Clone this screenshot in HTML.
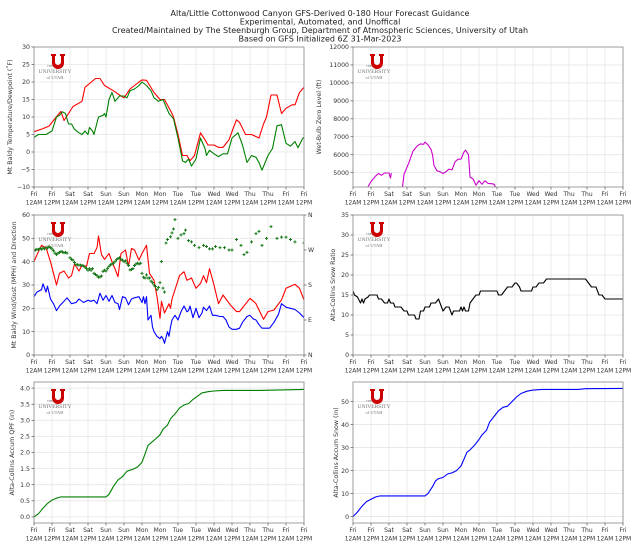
<!DOCTYPE html>
<html><head><meta charset="utf-8">
<style>
html,body{margin:0;padding:0;background:#fff;}
svg{display:block;font-family:"DejaVu Sans","Liberation Sans",sans-serif;}
</style></head>
<body>
<svg id="fig" width="639" height="548" viewBox="0 0 639 548">
<g font-size="8" fill="#222" text-anchor="middle">
<text x="320" y="16">Alta/Little Cottonwood Canyon GFS-Derived 0-180 Hour Forecast Guidance</text>
<text x="320" y="24.5">Experimental, Automated, and Unoffical</text>
<text x="320" y="33">Created/Maintained by The Steenburgh Group, Department of Atmospheric Sciences, University of Utah</text>
<text x="320" y="41.5">Based on GFS Initialized 6Z 31-Mar-2023</text>
</g>
</svg>
<script>
// ---- data (hour offsets from Fri 12AM) ----
const dayLabels=["Fri","Fri","Sat","Sat","Sun","Sun","Mon","Mon","Tue","Tue","Wed","Wed","Thu","Thu","Fri","Fri"];
const timeLabels=["12AM","12PM","12AM","12PM","12AM","12PM","12AM","12PM","12AM","12PM","12AM","12PM","12AM","12PM","12AM","12PM"];

const tempHours=[0,6,10,16,18,20,26,32,34,41,44,47,53,58,60,64,70,72,75,80,84,87,92,93,96,99,102,104,107,111,114,116,120,123,126,130,133,135,137,141,145,150,153,155,158,162,165,168,172,174,177,180];
const tempValues=[5.8,6.7,7.4,10.6,11.6,9,13,14.5,18.5,21,21,19,17.5,16,15.5,18,20,20.6,20.5,17,15,15,11,10,5,-1,-1,-2.5,-1,5.5,3.5,2,2,1.3,1.3,3.5,7,9.2,8.5,5,5,4,8,10,16.3,16.3,11,12.5,13.5,13.5,17,18.5];
const dewHours=[0,3,8,12,15,17,19,21,23,25,27,30,32,34,36,37,39,40,43,46,47,48,50,52,54,57,60,62,64,67,70,72,75,78,80,83,86,90,93,96,99,101,103,105,108,111,114,115,117,120,123,126,129,132,136,139,142,145,148,150,152,156,159,162,165,168,171,174,176,179,180];
const dewValues=[4.2,5,5,6,10,10.5,11.5,11,8,8,6.5,5.5,5,6,5,7,6,5,10,10.5,11,10,15,17,14.5,16,16,15.5,17.5,18,19,20,19,17.5,15.5,14.5,15,11,9.5,4,-2.5,-3,-2,-4,-2,4,1,-1,0.5,-0.5,-1.3,-0.5,-0.5,4,5.5,2,-3,-1,-1.5,-3,-5.2,-1,1,7.5,7.8,2.5,1.7,3,1.2,3.8,4.2];

const wbzHours=[10,12,15,17,19,21,24,25,25.5,25.6,33,34,37,40,43,45,47,48,50,52,53,54,56,58,60,62,64,66,68,70,72,74,75,77,78,80,82,84,86,88,90,93,94,95];
const wbzValues=[4220,4500,4800,4950,4850,4980,4980,4700,4980,null,4200,4900,5500,6200,6500,6600,6580,6700,6550,6300,6000,5400,5100,5050,4950,5050,5200,5150,5600,5750,5750,6150,6250,6000,4750,4650,4300,4550,4350,4550,4400,4380,4350,4200];

const gustHours=[0,2,5,8,11,13,15,17,20,23,25,27,30,32,35,37,40,42,43,45,47,50,52,54,56,58,61,63,65,67,70,72,75,77,80,82,84,85,87,90,91,92,95,97,100,102,105,108,111,113,115,117,120,123,126,131,135,137,144,148,153,156,160,165,168,174,177,180];
const gustValues=[40,43,47,46,40,35,30,35,36,33,34,39,36,38.5,38,43.5,43.5,46,51,43,41,43.5,40,37,33.5,43.5,45,38,45.7,45,40.7,43.5,47,35,32,25,15.7,23,18,22,20,24,30,34,35.7,32,33,28.6,30.7,34,31,37,30,22,25.7,21.4,18.6,18.6,24.3,22,15.3,18.6,19.3,23.6,28.6,30.3,28.6,23.6];
const windHours=[0,2,5,6,8,9,11,13,15,17,20,22,25,28,30,33,36,38,40,42,44,46,48,50,52,54,56,57,59,61,63,65,67,70,72,73,74,75,76,78,79,80,82,84,85,86,87,89,90,91,92,94,96,98,100,102,103,104,106,108,110,112,113,115,117,119,121,124,126,128,130,132,135,137,139,142,144,146,148,150,152,155,157,160,163,165,168,171,174,177,180];
const windValues=[25,27,28,30.5,27,29.5,24,22,19,21,23,24.5,22,22.5,24,22.5,23.5,23,23.5,22,26.5,23.5,25.5,23,25.5,22.5,22,19.5,25,24.5,21.5,24,24.5,25,22.5,25,22,25,15,17,12,10,8,7,8,7,5,10,8,12,15,17,15,18.5,21,18.5,19,21,16,20,16,18,20.5,19,21,17,17,16.5,16.5,15,12,11,11,11.5,14,16.5,17,15.5,15,13,11.5,11.5,11.5,14,17.5,22,20.5,20,19.5,18,16];
const dirHours=[0,1,2,3,4,5,6,7,8,9,10,11,12,13,14,15,16,17,18,19,20,21,22,24,25,26,27,28,29,30,31,32,33,34,35,36,37,38,39,40,41,42,43,44,45,46,47,48,49,50,51,52,53,54,55,56,57,58,59,60,61,62,63,64,65,66,67,68,69,70,71,72,73,74,75,76,77,78,79,80,81,82,83,84,85,86,87,88,89,91,92,93,94,96,98,100,101,103,105,107,110,113,115,117,119,121,124,127,130,132,135,138,140,142,145,148,150,152,155,158,162,165,168,171,174,180];
const dirValues=[268,270,272,271,274,272,275,273,276,275,278,276,273,268,262,258,262,264,266,265,263,264,262,250,246,244,238,232,232,231,231,230,229,226,222,218,222,218,222,210,207,204,200,201,203,215,218,216,222,228,232,234,236,240,245,248,250,246,244,240,242,236,230,219,220,222,230,234,236,234,236,210,200,198,206,198,198,190,186,180,176,168,174,186,240,172,162,288,297,304,314,324,348,300,309,312,321,294,291,282,276,282,279,273,273,279,276,276,270,270,297,282,258,264,291,312,318,282,300,330,300,303,303,297,291,288];

const ratioHours=[0,1,3,5,6,7,8,10,11,16,17,19,21,23,24,25,27,28,32,34,36,37,41,42,44,45,47,48,51,52,55,57,58,60,62,64,65,66,67,71,72,73,74,75,77,78,80,82,84,85,96,97,99,101,103,106,108,109,111,112,119,120,122,124,127,129,155,157,159,162,164,166,168,180];
const ratioValues=[16,15,14.5,13,14,13,14,14.5,15,15,14,14,13,13,14,13,13,12,12,11,11,10,10,9,9,11,11,12,12,13,13,14,13,11,12,12,11,10,11,11,12,11,12,11,11,13,14,15,15,16,16,15,15,16,17,17,18,18,17,16,16,17,17,18,18,19,19,18,17,17,15,15,14,14];

const qpfHours=[0,3,6,9,12,15,18,24,48,50,53,56,59,62,66,69,72,74,76,78,81,84,86,89,91,94,97,100,103,106,109,112,116,120,126,150,180];
const qpfValues=[0,0.1,0.27,0.42,0.52,0.58,0.62,0.62,0.62,0.7,0.95,1.15,1.25,1.42,1.48,1.55,1.7,1.95,2.22,2.3,2.42,2.55,2.72,2.85,3.05,3.2,3.38,3.48,3.52,3.65,3.75,3.85,3.89,3.91,3.93,3.93,3.96];
const snowHours=[0,3,6,9,12,15,18,48,50,53,55,57,60,63,66,69,72,74,76,78,81,84,86,89,91,94,97,100,103,106,109,112,116,120,126,150,155,180];
const snowValues=[0,2,4.5,6.5,7.5,8.5,9,9,10,13,15.5,16.5,17,18.5,19,20,22,25,28,29,31,33.5,35.5,37.5,41,43.5,46,47.5,48,50,52,53.5,54.5,55,55.3,55.3,55.6,55.7];

const NS='http://www.w3.org/2000/svg';
const fig=document.getElementById('fig');
function mk(tag,attrs,parent){const e=document.createElementNS(NS,tag);for(const k in attrs)e.setAttribute(k,attrs[k]);(parent||fig).appendChild(e);return e;}

let clipId=0;
function panel(p){
  const g=mk('g',{});
  
  
  const L=p.x0,R=p.x0+270,T=p.y0,B=p.y0+p.h;
  const xs=h=>L+h*270/180;
  const ys=v=>B-(v-p.ymin)/(p.ymax-p.ymin)*p.h;
  for(let i=0;i<16;i++){const x=xs(i*12);mk('line',{x1:x,x2:x,y1:T,y2:B,stroke:'#e6e6e6','stroke-width':0.8},g);}
  p.yticks.forEach(v=>{const y=ys(v);mk('line',{x1:L,x2:R,y1:y,y2:y,stroke:'#e6e6e6','stroke-width':0.8},g);});
  const lg=mk('g',{},g);
  
  
  mk('path',{d:`M${L+17} ${T+7}h5v2h-1v6a3 3 0 0 0 6 0v-6h-1v-2h5v2h-1v7a6 6 0 0 1 -12 0v-7h-1z`,fill:'#cc0000'},lg);
  const t1=mk('text',{x:L+21,y:T+26,'font-size':5.5,fill:'#777','text-anchor':'middle','font-family':'Liberation Serif,serif'},lg);t1.textContent='UNIVERSITY';
  const t0=mk('text',{x:L+13,y:T+20,'font-size':3,fill:'#777','font-family':'Liberation Serif,serif'},lg);t0.textContent='THE';
  const t2=mk('text',{x:L+21,y:T+32,'font-size':4.5,fill:'#777','text-anchor':'middle','font-family':'Liberation Serif,serif'},lg);t2.textContent='of UTAH';
  const cid='c'+(clipId++);
  const cp=mk('clipPath',{id:cid},g);mk('rect',{x:L,y:T,width:270,height:p.h},cp);
  const sg=mk('g',{'clip-path':`url(#${cid})`},g);
  p.series.forEach(s=>{
    if(s.markers){
      const mg=mk('g',{},sg);
      
      
      s.hours.forEach((h,i)=>{const x=xs(h),y=ys(s.values[i]*s.scale);
        mk('path',{d:`M${x-1.5} ${y}h3M${x} ${y-1.5}v3`,stroke:s.color,'stroke-width':1},mg);});
      return;
    }
    let d='',pen=false;
    s.hours.forEach((h,i)=>{const v=s.values[i];if(v===null){pen=false;return;}
      d+=(pen?'L':'M')+xs(h).toFixed(1)+' '+ys(v).toFixed(1);pen=true;});
    const pa=mk('path',{d:d,fill:'none',stroke:s.color,'stroke-width':1.1,'stroke-linejoin':'round'},sg);
    
    
  });
  mk('rect',{x:L,y:T,width:270,height:p.h,fill:'none',stroke:'#888','stroke-width':0.8},g);
  p.yticks.forEach((v,i)=>{const y=ys(v);mk('line',{x1:L-2.5,x2:L,y1:y,y2:y,stroke:'#555','stroke-width':0.7},g);
    const t=mk('text',{x:L-4,y:y+2.2,'font-size':6.2,fill:'#333','text-anchor':'end'},g);t.textContent=p.ylabels[i];});
  if(p.right){p.right.forEach((lab,i)=>{const y=ys(i*15);mk('line',{x1:R,x2:R+2.5,y1:y,y2:y,stroke:'#555','stroke-width':0.7},g);
    const t=mk('text',{x:R+4,y:y+2.2,'font-size':6.2,fill:'#333'},g);t.textContent=lab;});}
  for(let i=0;i<16;i++){const x=xs(i*12);mk('line',{x1:x,x2:x,y1:B,y2:B+2.5,stroke:'#555','stroke-width':0.7},g);
    const a=mk('text',{x:x,y:B+9,'font-size':6,fill:'#333','text-anchor':'middle'},g);a.textContent=dayLabels[i];
    const b=mk('text',{x:x,y:B+17.5,'font-size':6,fill:'#333','text-anchor':'middle',textLength:16.5,lengthAdjust:'spacingAndGlyphs'},g);b.textContent=timeLabels[i];}
  const yl=mk('text',{x:0,y:0,'font-size':6.3,fill:'#333','text-anchor':'middle',transform:`translate(${p.ylx},${(T+B)/2}) rotate(-90)`},g);
  yl.textContent=p.ylabel;
  
  
}

panel({name:'temperature-dewpoint-panel',x0:34,y0:47,h:140,ymin:-10,ymax:30,yticks:[-10,-5,0,5,10,15,20,25,30],ylabels:['−10','−5','0','5','10','15','20','25','30'],ylx:12,ylabel:'Mt Baldy Temperature/Dewpoint (˚F)',
 series:[{name:'temperature-line',hours:tempHours,values:tempValues,color:'#ff0000'},{name:'dewpoint-line',hours:dewHours,values:dewValues,color:'#008000'}]});
panel({name:'wet-bulb-zero-panel',x0:353,y0:47,h:140,ymin:4200,ymax:12000,yticks:[5000,6000,7000,8000,9000,10000,11000,12000],ylabels:['5000','6000','7000','8000','9000','10000','11000','12000'],ylx:321,ylabel:'Wet-Bulb Zero Level (ft)',
 series:[{name:'wet-bulb-zero-line',hours:wbzHours,values:wbzValues,color:'#cc00cc'}]});
panel({name:'wind-panel',x0:34,y0:215,h:140,ymin:0,ymax:60,yticks:[0,10,20,30,40,50,60],ylabels:['0','10','20','30','40','50','60'],ylx:16,ylabel:'Mt Baldy Wind/Gust (MPH) and Direction',right:['N','E','S','W','N'],
 series:[{name:'gust-line',hours:gustHours,values:gustValues,color:'#ff0000'},{name:'wind-line',hours:windHours,values:windValues,color:'#0000ff'},{name:'direction-markers',hours:dirHours,values:dirValues,color:'#1a7a1a',markers:true,scale:1/6}]});
panel({name:'snow-ratio-panel',x0:353,y0:215,h:140,ymin:0,ymax:35,yticks:[0,5,10,15,20,25,30,35],ylabels:['0','5','10','15','20','25','30','35'],ylx:335,ylabel:'Alta-Collins Snow Ratio',
 series:[{name:'snow-ratio-line',hours:ratioHours,values:ratioValues,color:'#000000'}]});
panel({name:'qpf-panel',x0:34,y0:382,h:141,ymin:-0.19,ymax:4.19,yticks:[0,0.5,1,1.5,2,2.5,3,3.5,4],ylabels:['0.0','0.5','1.0','1.5','2.0','2.5','3.0','3.5','4.0'],ylx:14,ylabel:'Alta-Collins Accum QPF (in)',
 series:[{name:'qpf-line',hours:qpfHours,values:qpfValues,color:'#008000'}]});
panel({name:'snow-accum-panel',x0:353,y0:382,h:141,ymin:-2.8,ymax:58.5,yticks:[0,10,20,30,40,50],ylabels:['0','10','20','30','40','50'],ylx:338,ylabel:'Alta-Collins Accum Snow (in)',
 series:[{name:'snow-accum-line',hours:snowHours,values:snowValues,color:'#0000ff'}]});
</script>
</body></html>
